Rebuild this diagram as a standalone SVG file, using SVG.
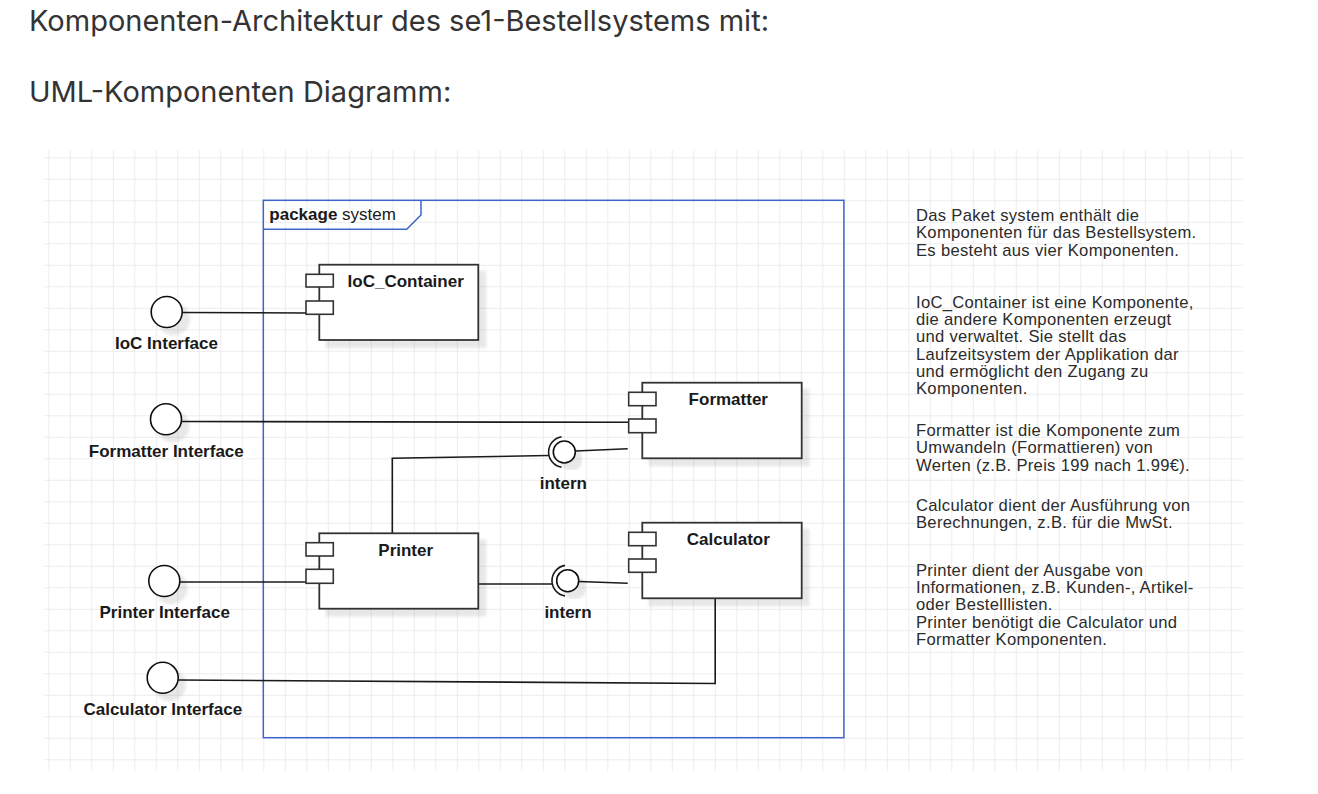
<svg xmlns="http://www.w3.org/2000/svg" width="1318" height="794" viewBox="0 0 1318 794">
<defs>
<pattern id="grid" patternUnits="userSpaceOnUse" x="5.3" y="6.8" width="21.5" height="21.5">
<path d="M0 0.5 H21.5 M0.5 0 V21.5" stroke="#ececec" stroke-width="1" fill="none"/>
</pattern>
<filter id="sh" x="-20%" y="-20%" width="150%" height="150%">
<feDropShadow dx="7" dy="7" stdDeviation="1.8" flood-color="#000" flood-opacity="0.09"/>
</filter>
<style>
.hd{font-family:Inter,"Liberation Sans",sans-serif;font-size:29px;fill:#333}
.lb{font-family:"Liberation Sans",Arial,sans-serif;font-size:17px;font-weight:bold;fill:#1a1a1a;text-anchor:middle}
.tx{font-family:"Liberation Sans",Arial,sans-serif;font-size:16.6px;letter-spacing:0.3px;fill:#2b2b2b}
.comp{fill:#fff;stroke:#333;stroke-width:1.8}
.port{fill:#fff;stroke:#333;stroke-width:1.6}
.ifc{fill:#fff;stroke:#111;stroke-width:1.6}
.con{fill:none;stroke:#1a1a1a;stroke-width:1.6}
.pkg{fill:none;stroke:#3d66cc;stroke-width:1.5}
</style>
</defs>
<rect width="1318" height="794" fill="#fff"/>
<rect x="44" y="150" width="1199" height="621" fill="url(#grid)"/>

<text class="hd" x="29" y="30.7">Komponenten-Architektur des se1-Bestellsystems mit:</text>
<text class="hd" x="29" y="102.3">UML-Komponenten Diagramm:</text>

<g id="package-system">
<rect class="pkg" x="263.3" y="200.3" width="580.6" height="537.4"/>
<path class="pkg" d="M263.3 229.3 H406.7 L421 215 V200.3"/>
<text x="269.3" y="220" font-family="Liberation Sans, Arial, sans-serif" font-size="17px" fill="#1a1a1a"><tspan font-weight="bold">package</tspan> system</text>
</g>

<g id="connectors">
<path class="con" d="M182.2 312.5 L306 313"/>
<path class="con" d="M181.5 421.5 L628.7 422.3"/>
<path class="con" d="M179.8 582 L306 582"/>
<path class="con" d="M392.3 533.3 V458.3 L548.8 455.5"/>
<path class="con" d="M575.5 451 L627.7 448.7"/>
<path class="con" d="M478.3 584 L552.2 584"/>
<path class="con" d="M578.9 581.5 L627.7 583.3"/>
<path class="con" d="M715.2 598.3 V683.5 L178.2 680"/>
</g>

<g id="ioc-interface">
<circle class="ifc" cx="166.7" cy="312" r="15.5" filter="url(#sh)"/>
<text class="lb" x="166.5" y="349.3">IoC Interface</text>
</g>
<g id="formatter-interface">
<circle class="ifc" cx="166" cy="419.3" r="15.5" filter="url(#sh)"/>
<text class="lb" x="166.3" y="456.7">Formatter Interface</text>
</g>
<g id="printer-interface">
<circle class="ifc" cx="164.3" cy="581" r="15.5" filter="url(#sh)"/>
<text class="lb" x="164.7" y="618.3">Printer Interface</text>
</g>
<g id="calculator-interface">
<circle class="ifc" cx="162.7" cy="677.8" r="15.5" filter="url(#sh)"/>
<text class="lb" x="162.8" y="715">Calculator Interface</text>
</g>

<g id="ioc-container">
<rect class="comp" x="319.3" y="264.7" width="159" height="75.3" filter="url(#sh)"/>
<rect class="port" x="306" y="274.3" width="27.3" height="12.7"/>
<rect class="port" x="306" y="301" width="27.3" height="13.3"/>
<text class="lb" x="405.7" y="286.7">IoC_Container</text>
</g>

<g id="formatter">
<rect class="comp" x="642.3" y="382.7" width="159.4" height="75.6" filter="url(#sh)"/>
<rect class="port" x="628.7" y="392.3" width="27.3" height="13.4"/>
<rect class="port" x="628.7" y="419" width="27.3" height="13.7"/>
<text class="lb" x="728.3" y="405">Formatter</text>
</g>

<g id="calculator">
<rect class="comp" x="642.3" y="522.7" width="159.4" height="75.6" filter="url(#sh)"/>
<rect class="port" x="628.7" y="532.3" width="27.3" height="13.4"/>
<rect class="port" x="628.7" y="559" width="27.3" height="13.3"/>
<text class="lb" x="728.3" y="545">Calculator</text>
</g>

<g id="printer">
<rect class="comp" x="319.3" y="533.3" width="159" height="75.4" filter="url(#sh)"/>
<rect class="port" x="306" y="542.7" width="27.3" height="13.3"/>
<rect class="port" x="306" y="569.3" width="27.3" height="14"/>
<text class="lb" x="405.7" y="556">Printer</text>
</g>

<g id="intern-formatter">
<circle class="ifc" cx="564.3" cy="452" r="11" filter="url(#sh)"/>
<path class="con" d="M561.6 436.7 A15.5 15.5 0 0 0 561.6 467.3"/>
<text class="lb" x="563.3" y="489.3">intern</text>
</g>

<g id="intern-calculator">
<circle class="ifc" cx="567.7" cy="580.7" r="11" filter="url(#sh)"/>
<path class="con" d="M565 565.4 A15.5 15.5 0 0 0 565 596"/>
<text class="lb" x="568" y="618">intern</text>
</g>

<g id="description">
<text class="tx" x="916" y="220.7">Das Paket system enthält die</text>
<text class="tx" x="916" y="238.1">Komponenten für das Bestellsystem.</text>
<text class="tx" x="916" y="255.5">Es besteht aus vier Komponenten.</text>
<text class="tx" x="916" y="307.7">IoC_Container ist eine Komponente,</text>
<text class="tx" x="916" y="325">die andere Komponenten erzeugt</text>
<text class="tx" x="916" y="342.3">und verwaltet. Sie stellt das</text>
<text class="tx" x="916" y="359.6">Laufzeitsystem der Applikation dar</text>
<text class="tx" x="916" y="376.9">und ermöglicht den Zugang zu</text>
<text class="tx" x="916" y="394.2">Komponenten.</text>
<text class="tx" x="916" y="436">Formatter ist die Komponente zum</text>
<text class="tx" x="916" y="453.3">Umwandeln (Formattieren) von</text>
<text class="tx" x="916" y="470.6">Werten (z.B. Preis 199 nach 1.99€).</text>
<text class="tx" x="916" y="510.7">Calculator dient der Ausführung von</text>
<text class="tx" x="916" y="528">Berechnungen, z.B. für die MwSt.</text>
<text class="tx" x="916" y="575.7">Printer dient der Ausgabe von</text>
<text class="tx" x="916" y="593">Informationen, z.B. Kunden-, Artikel-</text>
<text class="tx" x="916" y="610.3">oder Bestelllisten.</text>
<text class="tx" x="916" y="627.6">Printer benötigt die Calculator und</text>
<text class="tx" x="916" y="644.9">Formatter Komponenten.</text>
</g>
</svg>
